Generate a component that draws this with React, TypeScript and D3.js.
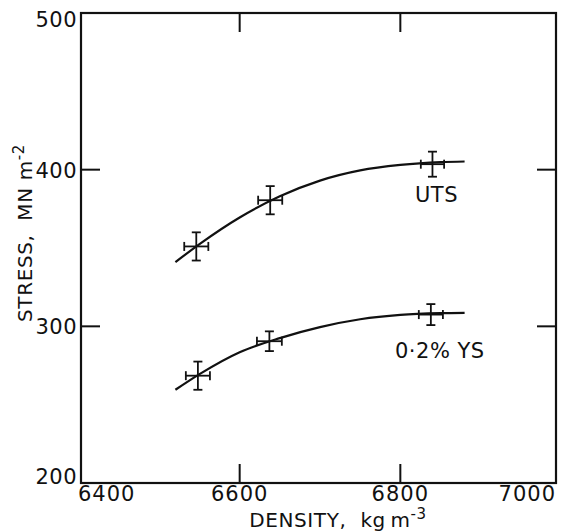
import * as d3 from 'd3';

const W = 563;
const H = 531;

// frame (drawn box), in px
const frame = { left: 81, right: 556, top: 13, bottom: 483 };

const xTicks = [6400, 6600, 6800, 7000];
const yTicks = [200, 300, 400, 500];

// fitted curves
const utsCurve: [number, number][] = [
  [6520, 341], [6550, 352.5], [6600, 369.5], [6650, 383], [6700, 393],
  [6750, 399.5], [6800, 403], [6850, 404.8], [6880, 405.2],
];
const ysCurve: [number, number][] = [
  [6520, 259.5], [6550, 269.5], [6600, 283.5], [6650, 292.5], [6700, 299.5],
  [6750, 304.5], [6800, 307.3], [6850, 308.4], [6880, 308.6],
];

// measured points with error bars
const utsX = [6546, 6638, 6840];
const utsY = [351, 380.5, 403.5];
const utsYErr = [9, 9, 8];
const utsXErr = [15, 15, 14.5];

const ysX = [6548, 6637, 6838];
const ysY = [268.5, 290.5, 307.5];
const ysYErr = [9, 6.3, 6.7];
const ysXErr = [15, 15.5, 15];

const x = d3.scaleLinear().domain([6400, 7000]).range([79, 561]);
const y = d3.scaleLinear().domain([200, 500]).range([483, 13]);

const line = d3.line<[number, number]>()
  .x(d => x(d[0]))
  .y(d => y(d[1]))
  .curve(d3.curveMonotoneX);

const font = "'DejaVu Sans', sans-serif";

function ErrorCross({ cx, cy, xe, ye }: { cx: number; cy: number; xe: number; ye: number }) {
  const px = x(cx), py = y(cy);
  const x0 = x(cx - xe), x1 = x(cx + xe);
  const y0 = y(cy + ye), y1 = y(cy - ye);
  const cap = 4.5;
  return (
    <g stroke="#111" strokeWidth={1.8} fill="none">
      <line x1={px} y1={y0} x2={px} y2={y1} />
      <line x1={px - cap} y1={y0} x2={px + cap} y2={y0} />
      <line x1={px - cap} y1={y1} x2={px + cap} y2={y1} />
      <line x1={x0} y1={py} x2={x1} y2={py} />
      <line x1={x0} y1={py - cap} x2={x0} y2={py + cap} />
      <line x1={x1} y1={py - cap} x2={x1} y2={py + cap} />
    </g>
  );
}

export default function App() {
  const tickLen = 19;
  return (
    <svg width={W} height={H} style={{ position: 'absolute', left: 0, top: 0, background: '#fff' }}
      fontFamily={font}>
      <rect x={0} y={0} width={W} height={H} fill="#fff" />
      {/* frame */}
      <rect x={frame.left} y={frame.top} width={frame.right - frame.left}
        height={frame.bottom - frame.top} fill="none" stroke="#111" strokeWidth={2.2} />

      {/* inner ticks */}
      <g stroke="#111" strokeWidth={2}>
        {xTicks.slice(1, -1).map(t => (
          <g key={'xt' + t}>
            <line x1={x(t)} x2={x(t)} y1={frame.bottom} y2={frame.bottom - tickLen} />
            <line x1={x(t)} x2={x(t)} y1={frame.top} y2={frame.top + tickLen} />
          </g>
        ))}
        {yTicks.slice(1, -1).map(t => (
          <g key={'yt' + t}>
            <line x1={frame.left} x2={frame.left + tickLen} y1={y(t)} y2={y(t)} />
            <line x1={frame.right} x2={frame.right - tickLen} y1={y(t)} y2={y(t)} />
          </g>
        ))}
      </g>

      {/* x tick labels */}
      <g fontSize={21} fill="#111" letterSpacing={1}>
        {xTicks.map((t, i) => (
          <text key={'xl' + t}
            x={i === 0 ? frame.left - 3 : i === xTicks.length - 1 ? frame.right : x(t)}
            y={501}
            textAnchor={i === 0 ? 'start' : i === xTicks.length - 1 ? 'end' : 'middle'}>
            {t}
          </text>
        ))}
      </g>

      {/* y tick labels */}
      <g fontSize={21} fill="#111" letterSpacing={0.5}>
        {yTicks.map((t, i) => (
          <text key={'yl' + t} x={77}
            y={i === 0 ? y(t) + 1 : i === yTicks.length - 1 ? y(t) + 14 : y(t) + 8}
            textAnchor="end">
            {t}
          </text>
        ))}
      </g>

      {/* axis titles */}
      <text x={338} y={527} fontSize={20} textAnchor="middle" fill="#111" letterSpacing={0.6}>
        {'DENSITY,\u00a0 kg\u2009m'}<tspan dy={-8} fontSize={15}>-3</tspan>
      </text>
      <text transform="translate(32,233) rotate(-90)" fontSize={20} textAnchor="middle" fill="#111"
        letterSpacing={0.6}>
        {'STRESS,\u00a0 MN m'}<tspan dy={-8} fontSize={15}>-2</tspan>
      </text>

      {/* curves */}
      <path d={line(utsCurve) ?? ''} fill="none" stroke="#111" strokeWidth={2.2} />
      <path d={line(ysCurve) ?? ''} fill="none" stroke="#111" strokeWidth={2.2} />

      {utsX.map((v, i) => (
        <ErrorCross key={'u' + i} cx={v} cy={utsY[i]} xe={utsXErr[i]} ye={utsYErr[i]} />
      ))}
      {ysX.map((v, i) => (
        <ErrorCross key={'y' + i} cx={v} cy={ysY[i]} xe={ysXErr[i]} ye={ysYErr[i]} />
      ))}

      {/* series labels */}
      <text x={415} y={202} fontSize={21} fill="#111" letterSpacing={0.5}>UTS</text>
      <text x={395} y={358} fontSize={21} fill="#111" letterSpacing={0.5}>0·2% YS</text>
    </svg>
  );
}
